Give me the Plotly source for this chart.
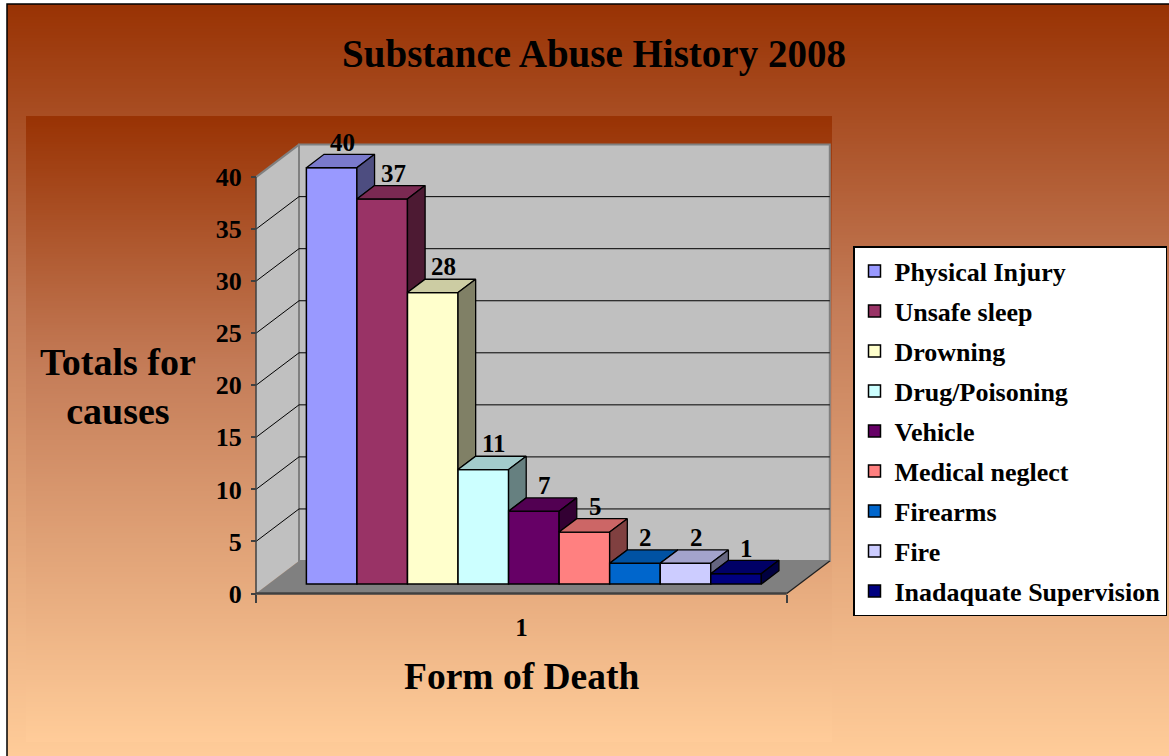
import base64
import struct
import zlib

import plotly.graph_objects as go

# ---------------- data ----------------
categories = ["Physical Injury", "Unsafe sleep", "Drowning", "Drug/Poisoning", "Vehicle",
              "Medical neglect", "Firearms", "Fire", "Inadaquate Supervision"]
values = [40, 37, 28, 11, 7, 5, 2, 2, 1]
front_colors = ["#9999FF", "#993366", "#FFFFCC", "#CCFFFF", "#660066",
                "#FF8080", "#0066CC", "#CCCCFF", "#000080"]
top_colors = ["#7A7ACC", "#7A2952", "#CCCCA3", "#A3CCCC", "#520052",
              "#CC6666", "#0052A3", "#A3A3CC", "#000066"]
side_colors = ["#4D4D80", "#4D1A33", "#808066", "#668080", "#330033",
               "#804040", "#003366", "#666680", "#000040"]
y_ticks = [0, 5, 10, 15, 20, 25, 30, 35, 40]
x_tick_labels = ["1"]

title_text = "Substance Abuse History 2008"
y_title = "Totals for<br>causes"
x_title = "Form of Death"

# ---------------- geometry / style ----------------
W, H = 1169, 756
PL, PR, PT, PB = 200, 850, 120, 610          # plot area in pixels
X0, Y0 = 256.0, 593.5                         # front axis origin in pixels
UX, UY = 50.55, 10.41                         # pixels per unit
DX, DY = 43.0 / UX, 32.5 / UY                 # full depth offset in axis units
F1, F2 = 0.29, 0.70                           # bar depth (fractions)
GAP = 0.75
CAT_W = len(values) + 2 * GAP
YMAX = y_ticks[-1]
FONT = "Liberation Serif"


def px2x(p):
    return (p - PL) / (PR - PL)


def py2y(p):
    return (PB - p) / (PB - PT)


# gradient colour stops (fraction, rgb)
GRAD_STOPS = [(0.0, (153, 51, 4)), (0.4, (196, 124, 88)), (1.0, (255, 204, 153))]


def grad_color(t):
    for (t0, c0), (t1, c1) in zip(GRAD_STOPS[:-1], GRAD_STOPS[1:]):
        if t <= t1:
            u = (t - t0) / (t1 - t0)
            return tuple(int(round(a + (b - a) * u)) for a, b in zip(c0, c1))
    return GRAD_STOPS[-1][1]


def gradient_uri(n=256):
    rows = []
    for k in range(n):
        c = bytes(grad_color(k / (n - 1)))
        rows.append(b"\x00" + c * 4)
    raw = b"".join(rows)

    def chunk(tag, data):
        return (struct.pack(">I", len(data)) + tag + data
                + struct.pack(">I", zlib.crc32(tag + data) & 0xFFFFFFFF))

    ihdr = struct.pack(">IIBBBBB", 4, n, 8, 2, 0, 0, 0)
    png = (b"\x89PNG\r\n\x1a\n" + chunk(b"IHDR", ihdr)
           + chunk(b"IDAT", zlib.compress(raw, 9)) + chunk(b"IEND", b""))
    return "data:image/png;base64," + base64.b64encode(png).decode()


fig = go.Figure()

# ---------------- bars (front, top, side faces) ----------------
dd_x = (F2 - F1) * DX
n = len(values)
for i, (cat, v) in enumerate(zip(categories, values)):
    xl = GAP + i + F1 * DX
    xr = xl + 1
    yb = F1 * DY
    fig.add_trace(go.Bar(
        x=[xl + 0.5], y=[v], base=[yb], width=[1], name=cat, legendgroup=cat,
        marker=dict(color=front_colors[i], line=dict(color="black", width=1.5)),
        hoverinfo="skip"))
    # top face
    fig.add_trace(go.Scatter(
        x=[xl, xr, xr + dd_x, xl + dd_x, xl],
        y=[v + F1 * DY, v + F1 * DY, v + F2 * DY, v + F2 * DY, v + F1 * DY],
        mode="lines", fill="toself", fillcolor=top_colors[i], legendgroup=cat,
        line=dict(color="black", width=1.3), showlegend=False, hoverinfo="skip"))
    # side face (only the visible part above the neighbouring bar)
    lower = values[i + 1] if i + 1 < n else 0
    fig.add_trace(go.Scatter(
        x=[xr, xr + dd_x, xr + dd_x, xr, xr],
        y=[lower + F1 * DY, lower + F2 * DY, v + F2 * DY, v + F1 * DY, lower + F1 * DY],
        mode="lines", fill="toself", fillcolor=side_colors[i], legendgroup=cat,
        line=dict(color="black", width=1.3), showlegend=False, hoverinfo="skip"))

# value labels
annotations = []
for i, v in enumerate(values):
    xc = GAP + i + 0.5 + (F1 + F2) / 2 * DX
    yc = v + (F1 + F2) / 2 * DY
    annotations.append(dict(x=xc, y=yc, xref="x", yref="y", text=str(v), showarrow=False,
                            xanchor="center", yanchor="middle", xshift=2, yshift=19,
                            font=dict(family=FONT, size=25, weight="bold", color="black")))

# axis titles
annotations.append(dict(x=px2x(118), y=py2y(386), xref="paper", yref="paper", text=y_title,
                        showarrow=False, align="center", xanchor="center", yanchor="middle",
                        font=dict(family=FONT, size=38, weight="bold", color="black")))
annotations.append(dict(x=px2x(521), y=py2y(676), xref="paper", yref="paper", text=x_title,
                        showarrow=False, xanchor="center", yanchor="middle",
                        font=dict(family=FONT, size=37.5, weight="bold", color="black")))


# ---------------- walls, floor, grid ----------------
def path(pts):
    return "M " + " L ".join(f"{a},{b}" for a, b in pts) + " Z"


shapes = []
shapes.append(dict(type="path", xref="x", yref="y", layer="below",
                   path=path([(0, 0), (0, YMAX), (DX, YMAX + DY), (DX, DY)]),
                   fillcolor="#C0C0C0", line=dict(width=0)))
shapes.append(dict(type="path", xref="x", yref="y", layer="below",
                   path=path([(DX, DY), (DX, YMAX + DY), (CAT_W + DX, YMAX + DY), (CAT_W + DX, DY)]),
                   fillcolor="#C0C0C0", line=dict(color="#808080", width=2)))
shapes.append(dict(type="path", xref="x", yref="y", layer="below",
                   path=path([(0, 0), (CAT_W, 0), (CAT_W + DX, DY), (DX, DY)]),
                   fillcolor="#808080", line=dict(width=0)))
for v in y_ticks[1:-1]:
    shapes.append(dict(type="line", xref="x", yref="y", layer="below",
                       x0=DX, y0=v + DY, x1=CAT_W + DX, y1=v + DY,
                       line=dict(color="black", width=1)))
    shapes.append(dict(type="line", xref="x", yref="y", layer="below",
                       x0=0, y0=v, x1=DX, y1=v + DY, line=dict(color="black", width=1)))
shapes.append(dict(type="line", xref="x", yref="y", layer="below",
                   x0=0, y0=YMAX, x1=DX, y1=YMAX + DY, line=dict(color="#808080", width=2)))
shapes.append(dict(type="line", xref="x", yref="y", layer="below",
                   x0=CAT_W, y0=0, x1=CAT_W + DX, y1=DY, line=dict(color="#202020", width=1.3)))
shapes.append(dict(type="line", xref="x", yref="y", layer="below",
                   x0=0, y0=0, x1=CAT_W, y1=0, line=dict(color="#404040", width=2.5)))
shapes.append(dict(type="line", xref="x", yref="y", layer="below",
                   x0=0, y0=0, x1=0, y1=YMAX, line=dict(color="#404040", width=1.5)))
# outer frame
shapes.append(dict(type="rect", xref="paper", yref="paper", layer="below",
                   x0=px2x(7), y0=py2y(4), x1=px2x(1172), y1=py2y(760),
                   line=dict(color="black", width=1.5), fillcolor="rgba(0,0,0,0)"))

grad = gradient_uri()
images = [
    dict(source=grad, xref="paper", yref="paper",
         x=px2x(7), y=py2y(4), sizex=(W - 7) / (PR - PL), sizey=(H - 4) / (PB - PT),
         sizing="stretch", xanchor="left", yanchor="top", layer="below"),
    dict(source=grad, xref="paper", yref="paper",
         x=px2x(26), y=py2y(116), sizex=(832 - 26) / (PR - PL), sizey=(742 - 116) / (PB - PT),
         sizing="stretch", xanchor="left", yanchor="top", layer="below"),
]

fig.update_layout(
    width=W, height=H,
    margin=dict(l=PL, r=W - PR, t=PT, b=H - PB, autoexpand=False),
    paper_bgcolor="white", plot_bgcolor="rgba(0,0,0,0)",
    barmode="overlay",
    font=dict(family=FONT, color="black"),
    title=dict(text=title_text, xref="container", yref="container", x=594 / W, y=1 - 53 / H,
               xanchor="center", yanchor="middle",
               font=dict(family=FONT, size=39, weight="bold", color="black")),
    xaxis=dict(range=[(PL - X0) / UX, (PR - X0) / UX], anchor="free", position=py2y(Y0),
               showgrid=False, zeroline=False, showline=False,
               tickmode="array", tickvals=[CAT_W / 2], ticktext=x_tick_labels,
               ticks="outside", ticklen=11, tickcolor="rgba(0,0,0,0)",
               tickfont=dict(family=FONT, size=25, weight="bold", color="black"),
               minor=dict(tickmode="array", tickvals=[0, CAT_W], ticks="outside", ticklen=8,
                          tickwidth=1.5, tickcolor="#404040", showgrid=False),
               fixedrange=True),
    yaxis=dict(range=[(Y0 - PB) / UY, (Y0 - PT) / UY], anchor="free", position=px2x(X0),
               showgrid=False, zeroline=False, showline=False,
               tickmode="array", tickvals=y_ticks, ticks="outside", ticklen=5, tickwidth=1.5,
               tickcolor="#404040", ticklabelstandoff=4,
               tickfont=dict(family=FONT, size=26, weight="bold", color="black"),
               fixedrange=True),
    legend=dict(x=px2x(853), y=py2y(246), xanchor="left", yanchor="top",
                bgcolor="white", bordercolor="black", borderwidth=1.5,
                font=dict(family=FONT, size=26, weight="bold", color="black"),
                traceorder="grouped", tracegroupgap=3.2,
                itemclick=False, itemdoubleclick=False),
    shapes=shapes, images=images, annotations=annotations,
)

fig.write_html("out.html", config={"displayModeBar": False},
               post_script="document.body.style.margin='0';document.body.style.overflow='hidden';")
